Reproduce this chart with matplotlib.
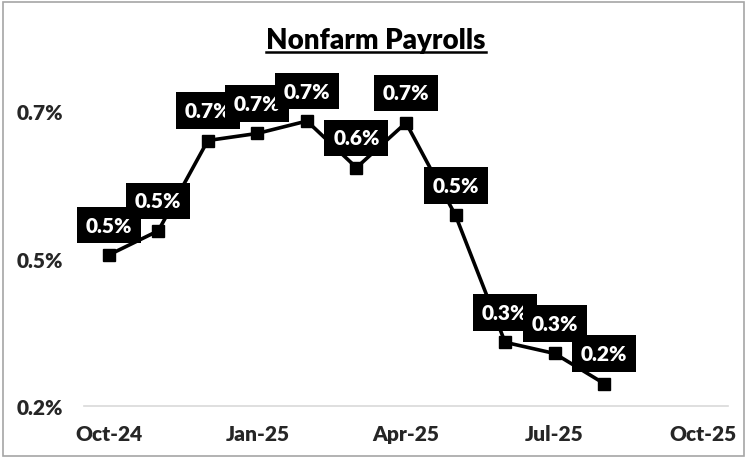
import matplotlib
matplotlib.use("Agg")
import matplotlib.pyplot as plt
from matplotlib.lines import Line2D
from matplotlib.patches import Rectangle

# ---- data ----
months = ["Oct-24", "Nov-24", "Dec-24", "Jan-25", "Feb-25", "Mar-25", "Apr-25",
          "May-25", "Jun-25", "Jul-25", "Aug-25", "Sep-25", "Oct-25"]
values = [0.456, 0.497, 0.650, 0.662, 0.683, 0.604, 0.680, 0.523, 0.308, 0.289, 0.238]
value_labels = ["0.5%", "0.5%", "0.7%", "0.7%", "0.7%", "0.6%", "0.7%", "0.5%", "0.3%", "0.3%", "0.2%"]
xtick_labels = ["Oct-24", "Jan-25", "Apr-25", "Jul-25", "Oct-25"]
ytick_values = [0.2, 0.45, 0.7]
ytick_labels = ["0.2%", "0.5%", "0.7%"]
title = "Nonfarm Payrolls"

FONT = ["Lato", "DejaVu Sans"]
plt.rcParams["font.family"] = FONT

W, H, DPI = 747, 460, 100
fig = plt.figure(figsize=(W / DPI, H / DPI), dpi=DPI)
ax = fig.add_axes([84 / W, 1 - 407 / H, 644 / W, 324.5 / H])

x = list(range(len(values)))
ax.plot(x, values, color="black", lw=2.6, marker="s", markersize=8,
        markerfacecolor="black", markeredgecolor="black", zorder=3,
        solid_joinstyle="miter")

for xi, v, lab in zip(x, values, value_labels):
    ax.annotate(lab, (xi, v), xytext=(0, 21.5), textcoords="offset points",
                ha="center", va="center", color="white", fontsize=15,
                fontweight="heavy",
                bbox=dict(boxstyle="square,pad=0.42", fc="black", ec="none"),
                zorder=4)

ax.set_xlim(-0.5, len(months) - 0.5)
ax.set_ylim(0.2, 0.75)
tick_pos = [months.index(m) for m in xtick_labels]
ax.set_xticks(tick_pos)
ax.set_xticklabels(xtick_labels, fontsize=15, fontweight="heavy", color="#262626")
ax.set_yticks(ytick_values)
ax.set_yticklabels(ytick_labels, fontsize=15, fontweight="heavy", color="#262626")
ax.tick_params(axis="both", length=0)
ax.tick_params(axis="x", pad=13)
ax.tick_params(axis="y", pad=15)

for s in ["top", "right", "left"]:
    ax.spines[s].set_visible(False)
ax.spines["bottom"].set_color("#d9d9d9")
ax.spines["bottom"].set_linewidth(1.2)

t = fig.text(376 / W, 1 - 41 / H, title, ha="center", va="center",
             fontsize=20, fontweight="heavy", color="black")

# outer border
fig.add_artist(Rectangle((3 / W, 3 / H), 1 - 6 / W, 1 - 6 / H, transform=fig.transFigure,
                         fill=False, ec="#a6a6a6", lw=1.2))

# underline title
fig.canvas.draw()
bb = t.get_window_extent(fig.canvas.get_renderer())
uy = bb.y0 + 1
fig.add_artist(Line2D([bb.x0 / W, bb.x1 / W], [uy / H, uy / H], transform=fig.transFigure,
                      color="black", lw=1.8))

fig.savefig("out.png", dpi=DPI)
